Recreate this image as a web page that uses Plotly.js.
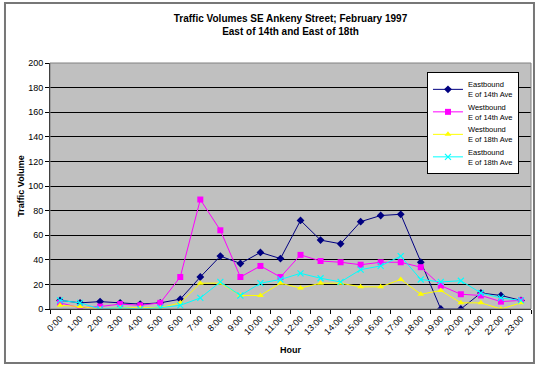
<!DOCTYPE html>
<html>
<head>
<meta charset="utf-8">
<script src="https://cdn.plot.ly/plotly-3.0.1.min.js"></script>
<style>html,body{margin:0;padding:0;background:#fff;}#chart{width:540px;height:371px;}</style>
</head>
<body>
<div id="chart"></div>
<script>
const hours = ["0:00","1:00","2:00","3:00","4:00","5:00","6:00","7:00","8:00","9:00","10:00","11:00",
  "12:00","13:00","14:00","15:00","16:00","17:00","18:00","19:00","20:00","21:00","22:00","23:00"];
const eastE14 = [7,5,6,5,4,5,8,26,43,37,46,41,72,56,53,71,76,77,38,0,0,13,11,7];
const westE14 = [5,1,2,4,3,5,26,89,64,26,35,26,44,39,38,36,38,38,34,19,12,11,6,7];
const westE18 = [3,2,0,1,1,1,5,21,21,11,11,21,17,21,21,18,18,24,12,15,5,5,0,5];
const eastE18 = [7,5,0,1,0,1,3,9,22,11,21,24,29,25,22,32,35,43,24,22,23,13,9,7];
const seriesNames = ["Eastbound<br>E of 14th Ave","Westbound<br>E of 14th Ave","Westbound<br>E of 18th Ave","Eastbound<br>E of 18th Ave"];
const yTicks = [0,20,40,60,80,100,120,140,160,180,200];

const font = "Liberation Sans, Arial, sans-serif";
function tr(y, name, color, symbol, size) {
  return {x: hours, y: y, name: name, type: "scatter", mode: "lines+markers",
    line: {color: color, width: 1},
    marker: {color: color, symbol: symbol, size: size, line: {color: color, width: symbol.indexOf("x") === 0 ? 1.2 : 0}}};
}
const data = [
  tr(eastE14, seriesNames[0], "#000080", "diamond", 6),
  tr(westE14, seriesNames[1], "#FF00FF", "square", 6),
  tr(westE18, seriesNames[2], "#FFFF00", "triangle-up", 6),
  tr(eastE18, seriesNames[3], "#00FFFF", "x-thin-open", 6)
];
const layout = {
  width: 540, height: 371,
  margin: {l: 50, r: 9, t: 63, b: 62},
  paper_bgcolor: "#ffffff",
  plot_bgcolor: "#c0c0c0",
  font: {family: font, size: 9, color: "#000"},
  title: {text: "<b>Traffic Volumes SE Ankeny Street; February 1997<br>East of 14th and East of 18th</b>",
    x: 0.5, xref: "paper", xanchor: "center", y: 0.94, yanchor: "top",
    font: {family: font, size: 10, color: "#000"}},
  xaxis: {type: "category", tickangle: -45, tickson: "boundaries", ticks: "outside", ticklen: 4,
    tickcolor: "#000", showline: true, linecolor: "#000", linewidth: 1, showgrid: false,
    range: [-0.5, 23.5], tickfont: {family: font, size: 9},
    title: {text: "<b>Hour</b>", font: {family: font, size: 9}, standoff: 10}},
  yaxis: {range: [0, 200], tickvals: yTicks, ticks: "outside", ticklen: 4, tickcolor: "#000",
    showline: true, linecolor: "#000", linewidth: 1, gridcolor: "#000", gridwidth: 1,
    zeroline: false, tickfont: {family: font, size: 9},
    title: {text: "<b>Traffic Volume</b>", font: {family: font, size: 9}, standoff: 2}},
  legend: {x: 0.975, y: 0.963, xanchor: "right", yanchor: "top", bgcolor: "#ffffff",
    bordercolor: "#000", borderwidth: 1, font: {family: font, size: 7.5}, tracegroupgap: 0, itemwidth: 30},
  shapes: [
    {type: "rect", xref: "paper", yref: "paper", x0: 0, x1: 1, y0: 0, y1: 1,
      line: {color: "#808080", width: 1}, fillcolor: "rgba(0,0,0,0)"},
    {type: "rect", xref: "paper", yref: "paper", x0: -0.0936, x1: 1.0062, y0: -0.2195, y1: 1.2439,
      line: {color: "#777777", width: 2}, fillcolor: "rgba(0,0,0,0)"}
  ]
};
Plotly.newPlot("chart", data, layout, {displayModeBar: false, staticPlot: true});
</script>
</body>
</html>
